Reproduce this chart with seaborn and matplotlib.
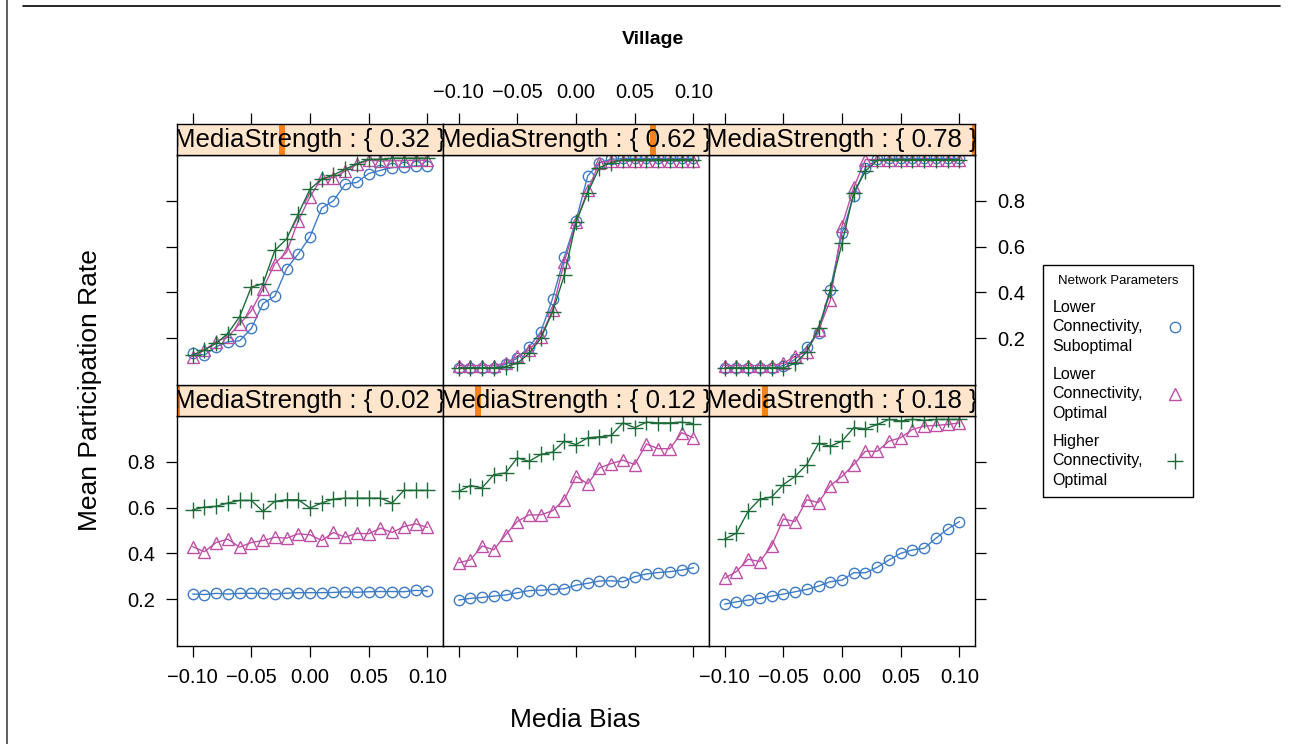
import seaborn as sns
import matplotlib.pyplot as plt
import numpy as np
import pandas as pd
from matplotlib.patches import Rectangle
from matplotlib.lines import Line2D

# valores: tasa media de participacion por sesgo mediatico
bias = [-0.10, -0.09, -0.08, -0.07, -0.06, -0.05, -0.04, -0.03, -0.02, -0.01, 0.00,
        0.01, 0.02, 0.03, 0.04, 0.05, 0.06, 0.07, 0.08, 0.09, 0.10]
strengths = [0.02, 0.12, 0.18, 0.32, 0.62, 0.78]
networks = ["Lower\nConnectivity,\nSuboptimal",
            "Lower\nConnectivity,\nOptimal",
            "Higher\nConnectivity,\nOptimal"]
xtick_vals = [-0.10, -0.05, 0.00, 0.05, 0.10]
xtick_labels = ["\u22120.10", "\u22120.05", "0.00", "0.05", "0.10"]
ytick_vals = [0.2, 0.4, 0.6, 0.8]
ytick_labels = ["0.2", "0.4", "0.6", "0.8"]

blue02 = [0.222, 0.220, 0.225, 0.222, 0.225, 0.225, 0.225, 0.222, 0.226, 0.228, 0.228,
          0.228, 0.229, 0.232, 0.230, 0.232, 0.233, 0.233, 0.232, 0.238, 0.236]
mag02 = [0.429, 0.407, 0.447, 0.462, 0.427, 0.447, 0.456, 0.470, 0.466, 0.485, 0.481,
         0.456, 0.491, 0.470, 0.488, 0.485, 0.510, 0.491, 0.517, 0.529, 0.513]
grn02 = [0.590, 0.602, 0.605, 0.620, 0.631, 0.631, 0.583, 0.627, 0.634, 0.634, 0.598,
         0.620, 0.637, 0.641, 0.641, 0.641, 0.641, 0.620, 0.675, 0.675, 0.675]

blue12 = [0.196, 0.203, 0.207, 0.213, 0.218, 0.228, 0.237, 0.239, 0.242, 0.245, 0.261,
          0.269, 0.279, 0.280, 0.276, 0.298, 0.310, 0.316, 0.320, 0.327, 0.337]
mag12 = [0.359, 0.371, 0.432, 0.415, 0.481, 0.539, 0.568, 0.568, 0.586, 0.634, 0.736,
         0.704, 0.773, 0.792, 0.807, 0.788, 0.878, 0.857, 0.857, 0.927, 0.905]
grn12 = [0.671, 0.696, 0.686, 0.744, 0.751, 0.817, 0.802, 0.832, 0.842, 0.890, 0.875,
         0.905, 0.909, 0.915, 0.970, 0.949, 0.973, 0.970, 0.970, 0.973, 0.967]

blue18 = [0.178, 0.188, 0.196, 0.203, 0.213, 0.222, 0.232, 0.242, 0.257, 0.276, 0.283,
          0.315, 0.315, 0.339, 0.371, 0.400, 0.415, 0.422, 0.466, 0.506, 0.539]
mag18 = [0.291, 0.320, 0.374, 0.364, 0.432, 0.550, 0.539, 0.634, 0.622, 0.696, 0.736,
         0.788, 0.846, 0.846, 0.890, 0.905, 0.941, 0.956, 0.959, 0.963, 0.970]
grn18 = [0.462, 0.488, 0.583, 0.637, 0.646, 0.700, 0.736, 0.788, 0.880, 0.868, 0.890,
         0.949, 0.944, 0.963, 0.985, 0.978, 0.985, 0.981, 0.985, 0.985, 0.985]

blue32 = [0.133, 0.126, 0.162, 0.184, 0.188, 0.242, 0.351, 0.383, 0.503, 0.568, 0.643,
          0.768, 0.800, 0.873, 0.880, 0.919, 0.933, 0.945, 0.948, 0.952, 0.952]
mag32 = [0.119, 0.148, 0.184, 0.206, 0.261, 0.319, 0.416, 0.525, 0.575, 0.713, 0.817,
         0.899, 0.901, 0.930, 0.959, 0.977, 0.974, 0.975, 0.975, 0.977, 0.977]
grn32 = [0.126, 0.148, 0.177, 0.220, 0.293, 0.423, 0.438, 0.583, 0.633, 0.742, 0.851,
         0.894, 0.913, 0.938, 0.962, 0.981, 0.981, 0.986, 0.986, 0.986, 0.986]

blue62 = [0.070, 0.070, 0.070, 0.070, 0.085, 0.112, 0.162, 0.227, 0.372, 0.553, 0.713,
          0.909, 0.967, 0.981, 0.985, 0.985, 0.985, 0.985, 0.985, 0.985, 0.985]
mag62 = [0.080, 0.080, 0.080, 0.080, 0.090, 0.120, 0.148, 0.206, 0.322, 0.532, 0.706,
         0.846, 0.967, 0.974, 0.975, 0.975, 0.975, 0.975, 0.975, 0.975, 0.975]
grn62 = [0.070, 0.070, 0.070, 0.070, 0.075, 0.090, 0.133, 0.199, 0.314, 0.474, 0.706,
         0.836, 0.945, 0.967, 0.980, 0.980, 0.980, 0.980, 0.980, 0.980, 0.980]

blue78 = [0.070, 0.070, 0.070, 0.070, 0.070, 0.080, 0.107, 0.162, 0.223, 0.412, 0.658,
          0.822, 0.945, 0.981, 0.985, 0.985, 0.985, 0.985, 0.985, 0.985, 0.985]
mag78 = [0.080, 0.080, 0.080, 0.080, 0.080, 0.090, 0.120, 0.140, 0.235, 0.365, 0.691,
         0.858, 0.980, 0.980, 0.980, 0.980, 0.980, 0.980, 0.980, 0.980, 0.980]
grn78 = [0.070, 0.070, 0.070, 0.070, 0.070, 0.070, 0.090, 0.140, 0.242, 0.409, 0.614,
         0.836, 0.930, 0.977, 0.980, 0.980, 0.980, 0.980, 0.980, 0.980, 0.980]

series = {
    0.02: [blue02, mag02, grn02],
    0.12: [blue12, mag12, grn12],
    0.18: [blue18, mag18, grn18],
    0.32: [blue32, mag32, grn32],
    0.62: [blue62, mag62, grn62],
    0.78: [blue78, mag78, grn78],
}

rows = []
for s in strengths:
    for net, vals in zip(networks, series[s]):
        for b, v in zip(bias, vals):
            rows.append({"MediaStrength": s, "network": net, "bias": b, "rate": v})
df = pd.DataFrame(rows)

colors = ["#3F7CC6", "#BD4FA5", "#1E6B3A"]
markers = ["o", "^", "+"]
msizes = [7.5, 9, 11]

sns.set_style("white")
plt.rcParams['font.family'] = ['Liberation Sans', 'DejaVu Sans']
plt.rcParams['text.color'] = 'black'
plt.rcParams['axes.labelcolor'] = 'black'

W, H = 1292, 744
fig = plt.figure(figsize=(W / 100, H / 100), dpi=100)


def box(x0, y0, x1, y1):
    return [x0 / W, 1 - y1 / H, (x1 - x0) / W, (y1 - y0) / H]


col_x = [177, 443, 709, 975]
# (strip top, panel top, panel bottom) en pixeles
row_y = {1: (124, 155, 385), 0: (385, 416, 646)}
xlim = (-0.1133, 0.1133)
ylim = (-0.005, 1.0)
smin, smax = min(strengths), max(strengths)
tick_kw = dict(direction="out", length=8, width=0.9, labelsize=14.5,
               colors="black")

for i, s in enumerate(strengths):
    r, c = i // 3, i % 3
    stop, ptop, pbot = row_y[r]
    ax = fig.add_axes(box(col_x[c], ptop, col_x[c + 1], pbot))
    sax = fig.add_axes(box(col_x[c], stop, col_x[c + 1], ptop))

    sub = df[df["MediaStrength"] == s]
    sns.lineplot(data=sub, x="bias", y="rate", hue="network", style="network",
                 hue_order=networks, style_order=networks, palette=colors,
                 markers=["o", "^", "P"], dashes=False, errorbar=None, legend=False,
                 linewidth=1.0, ax=ax)
    # marcadores huecos como en lattice
    for line, col, m, ms in zip(ax.lines, colors, markers, msizes):
        line.set_marker(m)
        line.set_color(col)
        line.set_markerfacecolor("none")
        line.set_markeredgecolor(col)
        line.set_markeredgewidth(1.0)
        line.set_markersize(ms)

    ax.set_xlim(xlim)
    ax.set_ylim(ylim)
    ax.set_xlabel("")
    ax.set_ylabel("")
    ax.set_xticks(xtick_vals)
    ax.set_xticklabels(xtick_labels)
    ax.set_yticks(ytick_vals)
    ax.set_yticklabels(ytick_labels)
    for sp in ax.spines.values():
        sp.set_color("black")
        sp.set_linewidth(1.0)

    if r == 0:
        ax.tick_params(axis="x", bottom=True, top=False, labelbottom=(c != 1),
                       labeltop=False, pad=8, **tick_kw)
    else:
        ax.tick_params(axis="x", bottom=False, top=False, labelbottom=False,
                       labeltop=False)
    ax.tick_params(axis="y", left=(c == 0), right=(c == 2),
                   labelleft=(c == 0 and r == 0), labelright=(c == 2 and r == 1),
                   pad=8, **tick_kw)

    # strip con indicador del shingle
    sax.set_facecolor("#FFE5CC")
    sax.set_xlim(xlim)
    sax.set_ylim(0, 1)
    sax.set_yticks([])
    frac = (s - smin) / (smax - smin)
    sax.add_patch(Rectangle((frac - 0.011, 0), 0.022, 1, transform=sax.transAxes,
                            facecolor="#F7821B", edgecolor="none"))
    sax.text(0.5, 0.47, "MediaStrength : { %.2f }" % s, transform=sax.transAxes,
             ha="center", va="center", fontsize=18.6, color="black", clip_on=True)
    for sp in sax.spines.values():
        sp.set_color("black")
        sp.set_linewidth(1.0)
    if r == 1:
        sax.set_xticks(xtick_vals)
        sax.set_xticklabels(xtick_labels)
        sax.tick_params(axis="x", top=True, bottom=False, labeltop=(c == 1),
                        labelbottom=False, pad=8, **tick_kw)
    else:
        sax.set_xticks([])

fig.text(653 / W, 1 - 40 / H, "Village", ha="center", va="center",
         fontsize=14, fontweight="bold")
fig.text(90 / W, 1 - 390 / H, "Mean Participation Rate", ha="center", va="center",
         rotation=90, fontsize=19)
fig.text(575 / W, 1 - 720 / H, "Media Bias", ha="center", va="center", fontsize=19)

handles = [Line2D([], [], linestyle="none", marker=m, markersize=ms,
                  markerfacecolor="none", markeredgecolor=col, markeredgewidth=1.0)
           for m, ms, col in zip(markers, msizes, colors)]
leg = fig.legend(handles, networks, loc="upper left",
                 bbox_to_anchor=(1043 / W, 1 - 265 / H), borderaxespad=0,
                 markerfirst=False,
                 title="Network Parameters", title_fontsize=9.5, fontsize=11.5,
                 frameon=True, fancybox=False, edgecolor="black", framealpha=1,
                 handlelength=1.0, handletextpad=1.5, labelspacing=0.85,
                 borderpad=0.6)
leg.get_frame().set_linewidth(1.0)
for t in leg.get_texts():
    t.set_linespacing(1.35)

# marco de la pagina
fig.add_artist(Line2D([7 / W, 7 / W], [0, 1], transform=fig.transFigure,
                      color="#444444", linewidth=1.2))
fig.add_artist(Line2D([23 / W, 1280 / W], [1 - 6 / H, 1 - 6 / H],
                      transform=fig.transFigure, color="black", linewidth=1.2))

fig.savefig("out.png", dpi=100)
